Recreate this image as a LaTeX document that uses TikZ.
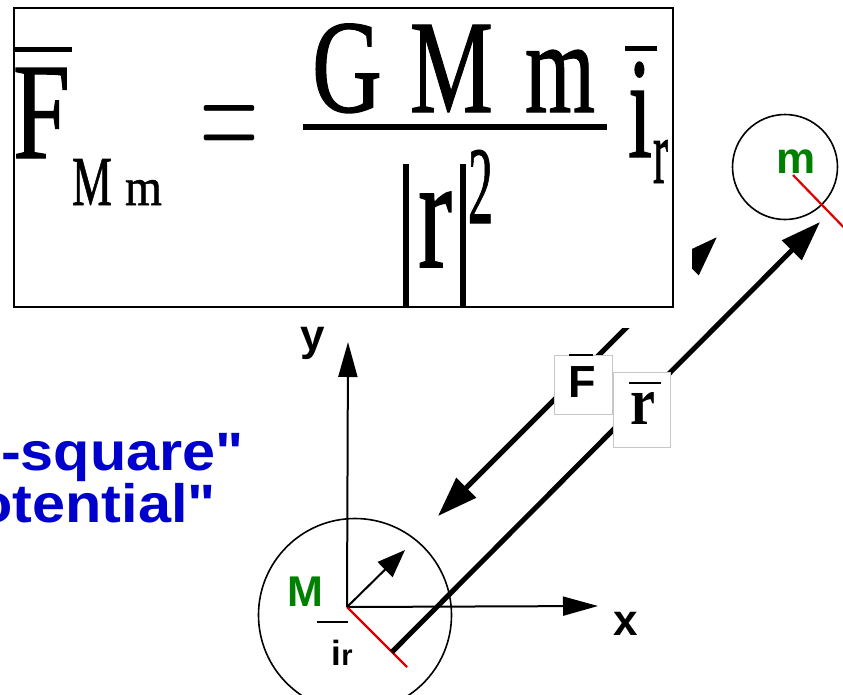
\documentclass[tikz,border=0pt]{standalone}
\usepackage{fontspec}
\setmainfont{Liberation Serif}
\newfontfamily\eqfont{Liberation Serif}[FakeBold=1]
\newfontfamily\eqsign{Latin Modern Roman}
\newfontfamily\lsans{Liberation Sans}[Ligatures=TeXOff]
\usetikzlibrary{arrows.meta}
\definecolor{tblue}{RGB}{0,0,204}
\definecolor{tgreen}{RGB}{0,128,0}
\definecolor{tred}{RGB}{222,0,0}
\begin{document}
\begin{tikzpicture}[x=1pt,y=-1pt,
  glyph/.style={inner sep=0pt, outer sep=0pt, anchor=south west, font=\eqfont\fontsize{130}{130}\selectfont},
  thickvec/.style={line width=5pt},
  bigtip/.tip={Triangle[length=40pt,width=27pt]},
  axtip/.tip={Triangle[length=35pt,width=19pt]},
  smalltip/.tip={Triangle[length=28pt,width=21pt]},
  axis/.style={line width=2pt},
  ball/.style={circle, draw, line width=1.6pt, inner sep=0pt},
  redline/.style={tred, line width=2.2pt},
  labbox/.style={draw=black!22, fill=white, line width=1pt, inner sep=0pt},
  sanslab/.style={font=\lsans\bfseries\fontsize{44}{44}\selectfont, inner sep=0pt},
  bluetxt/.style={font=\lsans\bfseries\fontsize{54}{54}\selectfont, text=tblue, inner sep=0pt, anchor=base east},
  barline/.style={line width=5pt}
]
\useasboundingbox (0,0) rectangle (843,694);
\clip (0,0) rectangle (843,694);

% force arrow (partly hidden behind formula)
\coordinate (Flo) at (438,516);
\coordinate (Fhi) at (717,237);
\draw[thickvec, bigtip-bigtip] (Flo) -- (Fhi);

% white backing of the formula picture
\fill[white] (0,0) rectangle (692,328);

% formula box
\node[draw, line width=2pt, minimum width=659pt, minimum height=299pt, inner sep=0pt, anchor=north west] (eqbox) at (13,7) {};

\node[glyph] (eqF) at (13,158) {\resizebox{57pt}{90pt}{F}};
\draw[barline] (13,49) -- (72,49);
\node[glyph] (eqM1) at (72,205) {\resizebox{40pt}{46pt}{M}};
\node[glyph] (eqm1) at (125,205) {\resizebox{37pt}{25pt}{m}};
\node[glyph, font=\eqsign\fontsize{130}{130}\selectfont] (eqeq) at (200,164) {\resizebox{58pt}{59pt}{=}};

\draw[line width=6pt] (303,127) -- (607,127);
\node[glyph] (eqG) at (312,113) {\resizebox{70pt}{88pt}{G}};
\node[glyph] (eqM2) at (410,112) {\resizebox{83pt}{87pt}{M}};
\node[glyph] (eqm2) at (525,112) {\resizebox{70pt}{62pt}{m}};
\draw[barline] (625,48) -- (657,48);
\node[glyph] (eqi) at (628,157) {\resizebox{24pt}{95pt}{i}};
\node[glyph] (eqr1) at (653,183) {\resizebox{15pt}{43pt}{r}};

\node[glyph, anchor=north] (bar1) at (406,165) {\resizebox*{20pt}{141pt}{|}};
\node[glyph, anchor=north] (bar2) at (463,165) {\resizebox*{20pt}{141pt}{|}};
\node[glyph] (eqr2) at (418,267) {\resizebox{34pt}{75pt}{r}};
\node[glyph] (eq2) at (468,223) {\resizebox{25pt}{73pt}{2}};

% axes
\coordinate (O) at (347,607);
\coordinate (Ytip) at (348,342);
\coordinate (Xtip) at (598,606);
\draw[axis, -axtip] (O) -- (Ytip);
\draw[axis, -axtip] (O) -- (Xtip);

% bodies
\node[ball, minimum size=193pt] (Mball) at (355,615) {};
\node[ball, minimum size=105pt] (mball) at (785,167) {};

% red radial lines
\coordinate (Mred) at (407,667);
\draw[redline] (O) -- (Mred);
\coordinate (mc) at (793,175);
\coordinate (mred) at (855,239);
\draw[redline] (mc) -- (mred);

% position vector r
\coordinate (Rs) at (392,652);
\coordinate (Re) at (820,222);
\draw[thickvec, -bigtip] (Rs) -- (Re);

% unit vector i_r
\coordinate (Ir) at (405,550);
\draw[axis, -smalltip] (O) -- (Ir);

% labels
\node[sanslab, anchor=base] (ylab) at (313,350) {y};
\node[sanslab, anchor=base] (xlab) at (626,635) {x};
\node[sanslab, text=tgreen, font=\lsans\bfseries\fontsize{43}{43}\selectfont, anchor=base] (Mlab) at (305.5,606) {M};
\node[sanslab, text=tgreen, anchor=base] (mlab) at (796.5,173) {m};
\node[inner sep=0pt, anchor=base west, font=\lsans\bfseries\fontsize{35}{35}\selectfont] (irlab) at (331,665) {i\kern0.5pt{\fontsize{29}{29}\selectfont r}};
\draw[line width=2pt] (317,622) -- (348,622);

\node[labbox, minimum width=58pt, minimum height=59pt] (Fbox) at (583,384.5) {};
\node[inner sep=0pt, anchor=base, font=\lsans\bfseries\fontsize{45}{45}\selectfont] (Ftxt) at (582.5,397) {F};
\draw[line width=2.5pt] (569,355) -- (593,355);

\node[labbox, minimum width=57pt, minimum height=75pt] (rbox) at (641.5,409.5) {};
\node[inner sep=0pt, anchor=south west] (rtxt) at (630,425) {\resizebox{25pt}{32pt}{\bfseries r}};
\draw[line width=2.5pt] (629,383) -- (661,383);

% blue text (cut at the left edge)
\node[bluetxt] (t1) at (244,470) {\scalebox{1.1}[1]{e-square"}};
\node[bluetxt] (t2) at (216,522) {\scalebox{1.1}[1]{otential"}};
\end{tikzpicture}
\end{document}
